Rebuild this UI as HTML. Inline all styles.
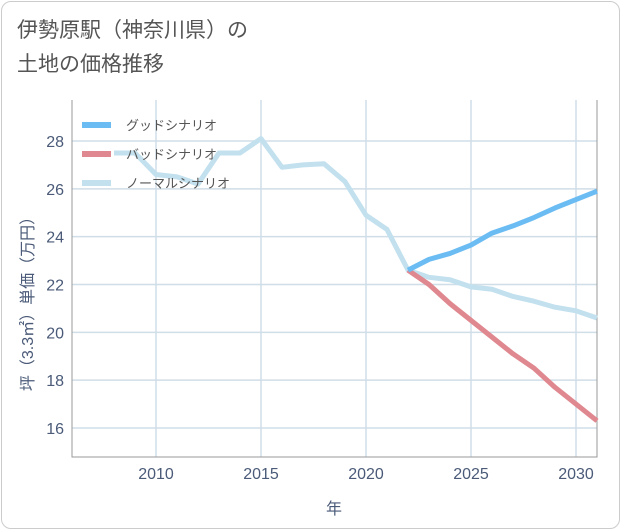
<!DOCTYPE html>
<html><head><meta charset="utf-8"><style>
body{margin:0;background:#fff;font-family:"Liberation Sans","Noto Sans CJK JP",sans-serif;}
#card{position:absolute;left:1px;top:1px;width:617px;height:526px;border:1px solid #ccc;border-radius:10px;background:#fff;}
#title{position:absolute;left:17px;top:14px;font-size:21px;line-height:34px;color:#555;}
</style></head><body>
<div id="card"></div>
<div id="title">伊勢原駅（神奈川県）の<br>土地の価格推移</div>
<svg id="chart" width="621" height="530" style="position:absolute;left:0;top:0"></svg>
<script>
const years=[2008,2009,2010,2011,2012,2013,2014,2015,2016,2017,2018,2019,2020,2021,2022,2023,2024,2025,2026,2027,2028,2029,2030,2031];
const normalVals=[27.5,27.5,26.6,26.5,26.2,27.5,27.5,28.1,26.9,27.0,27.05,26.3,24.9,24.3,22.6,22.3,22.2,21.9,21.8,21.5,21.3,21.05,20.9,20.6];
const goodYears=[2022,2023,2024,2025,2026,2027,2028,2029,2030,2031];
const goodVals=[22.6,23.05,23.3,23.65,24.15,24.45,24.8,25.2,25.55,25.9];
const badVals=[22.6,22.0,21.2,20.5,19.8,19.1,18.5,17.7,17.0,16.3];
const xTicks=[2010,2015,2020,2025,2030];
const yTicks=[16,18,20,22,24,26,28];
const NS='http://www.w3.org/2000/svg';
const svg=document.getElementById('chart');
const L=72,R=597,T=100,B=457;
const TXT='#4a5a78';
function x(v){return L+(v-2006)*(R-L)/25;}
function y(v){return 428+(v-16)*(141-428)/12;}
function mk(t,a,p){const e=document.createElementNS(NS,t);for(const k in a)e.setAttribute(k,a[k]);(p||svg).appendChild(e);return e;}
yTicks.forEach(v=>{const l=mk('line',{x1:L,x2:R,y1:y(v),y2:y(v),stroke:'#d0dee8','stroke-width':1.5});


const t=mk('text',{x:L-8,y:y(v)+6,'text-anchor':'end','font-size':16,fill:TXT});t.textContent=v;

});
xTicks.forEach(v=>{const l=mk('line',{x1:x(v),x2:x(v),y1:T,y2:B,stroke:'#d0dee8','stroke-width':1.5});


const t=mk('text',{x:x(v),y:479,'text-anchor':'middle','font-size':16,fill:TXT});t.textContent=v;

});
const ax=mk('path',{d:`M${L},${T}V${B}H${R}V${T}`,fill:'none',stroke:'#999','stroke-width':1});


function line(xs,vs,c,name){const p=mk('polyline',{points:xs.map((d,i)=>x(d)+','+y(vs[i])).join(' '),fill:'none',stroke:c,'stroke-width':5,'stroke-linejoin':'round'});

}
line(years,normalVals,'#c2e0ee','normal-scenario-line');
line(goodYears,badVals,'#e0888f','bad-scenario-line');
line(goodYears,goodVals,'#6bbcf3','good-scenario-line');
[['グッドシナリオ','#6bbcf3'],['バッドシナリオ','#e0888f'],['ノーマルシナリオ','#c2e0ee']].forEach((d,i)=>{
const yy=125+i*29;
const s=mk('line',{x1:82,x2:111,y1:yy,y2:yy,stroke:d[1],'stroke-width':6});


const t=mk('text',{x:126,y:yy+5,'font-size':13,fill:'#555'});t.textContent=d[0];

});
const xt=mk('text',{x:334,y:514,'text-anchor':'middle','font-size':16,fill:TXT});xt.textContent='年';


const yt=mk('text',{x:0,y:0,'text-anchor':'middle','font-size':16,fill:TXT,transform:'translate(33,300) rotate(-90)'});yt.textContent='坪（3.3㎡）単価（万円）';


</script>
</body></html>
